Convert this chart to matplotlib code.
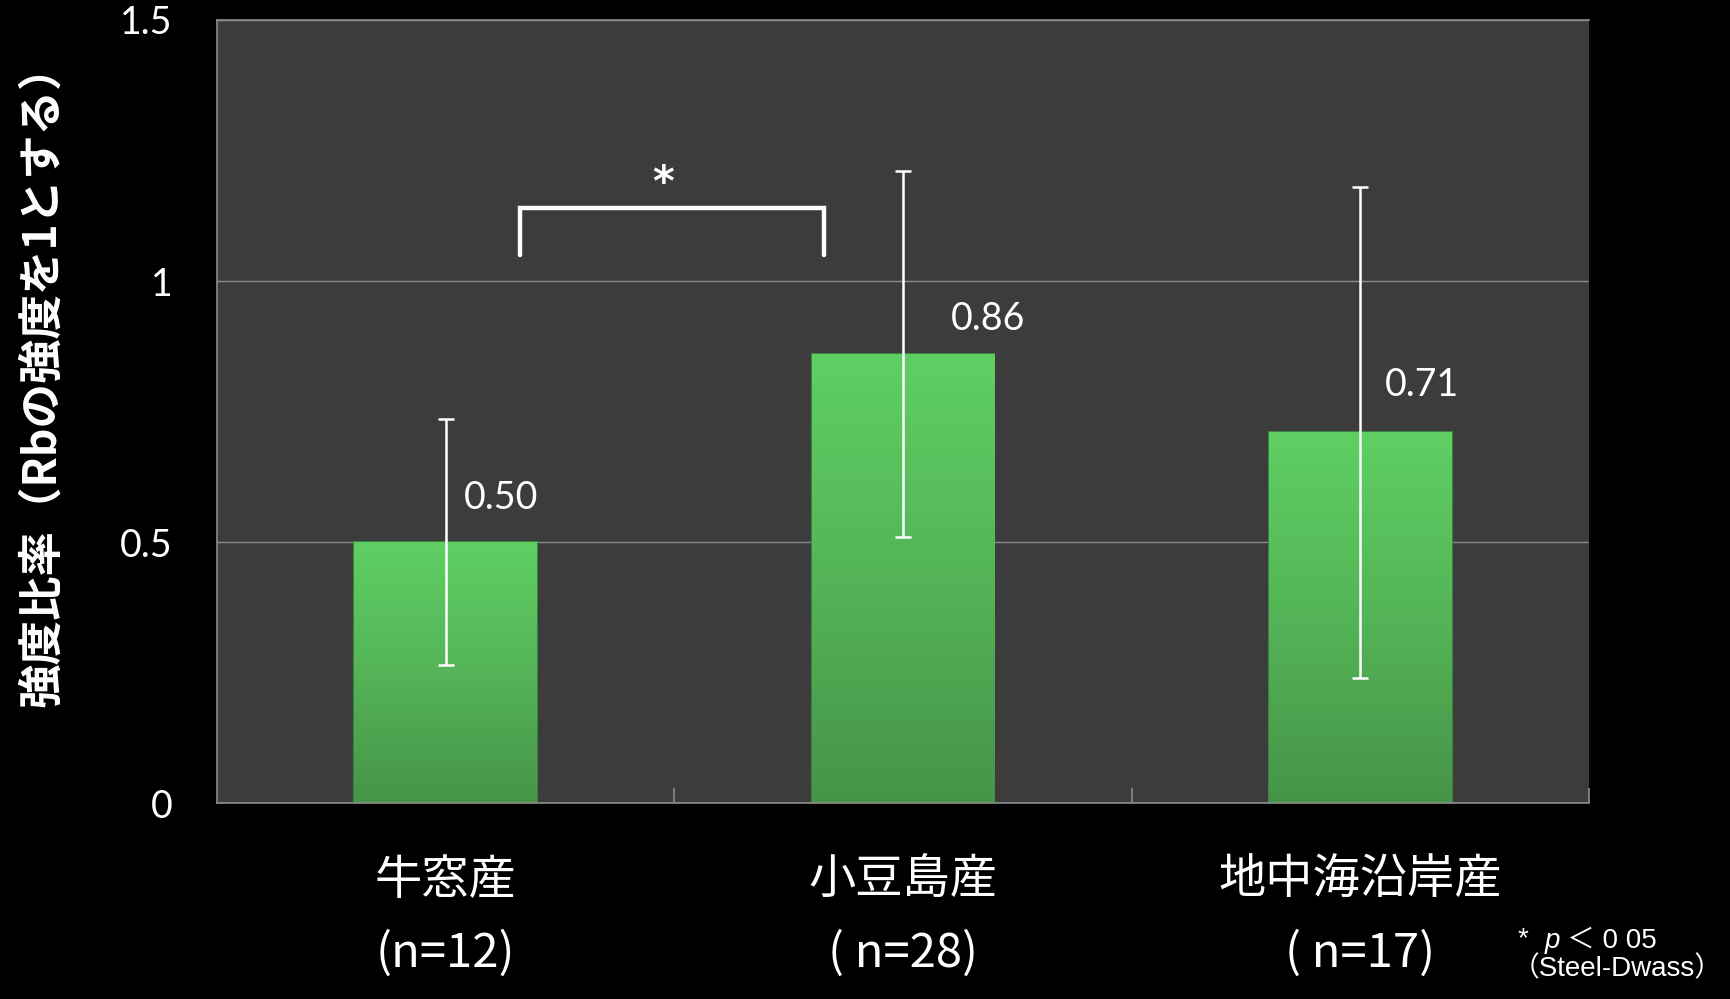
import matplotlib.pyplot as plt
import numpy as np
from matplotlib.colors import LinearSegmentedColormap

plt.rcParams['font.family'] = ['Noto Sans CJK JP', 'DejaVu Sans']

# 産地ごとの強度比率 (平均 ± SD)
origins = ['牛窓産', '小豆島産', '地中海沿岸産']
counts = ['(n=12)', '( n=28)', '( n=17)']
ratios = [0.50, 0.86, 0.71]
sds = [0.235, 0.35, 0.47]
value_labels = ['0.50', '0.86', '0.71']
yticks = [0, 0.5, 1, 1.5]
ytick_labels = ['0', '0.5', '1', '1.5']

BG = '#3c3c3c'
GRID = '#8c8c8c'
NOTE_FONT = ['Liberation Sans', 'Noto Sans CJK JP']

fig = plt.figure(figsize=(17.3, 9.99), dpi=100, facecolor='black')
ax = fig.add_axes([0.1254, 0.196, 0.7931, 0.784])
ax.set_facecolor(BG)

x = np.arange(len(origins))
bars = ax.bar(x, ratios, width=0.4, color='#55b959', edgecolor='#3b833e',
              linewidth=1.5, zorder=2)

# green vertical gradient inside each bar
green = LinearSegmentedColormap.from_list('g', ['#469448', '#54b457', '#5fcf63'])
grad = np.linspace(0, 1, 256).reshape(-1, 1)
for b in bars:
  x0, y0 = b.get_x(), b.get_y()
  im = ax.imshow(grad, cmap=green, origin='lower', aspect='auto',
                 extent=(x0, x0 + b.get_width(), y0, y0 + b.get_height()),
                 zorder=2.1)
  im.set_clip_path(b)

ax.errorbar(x, ratios, yerr=sds, fmt='none', ecolor='white', elinewidth=1.8,
            capsize=6, capthick=1.8, zorder=3)

# value labels beside each error bar
label_dx = [0.04, 0.105, 0.053]
label_y = [0.585, 0.928, 0.80]
for xi, dx, ly, txt in zip(x, label_dx, label_y, value_labels):
  ax.text(xi + dx, ly, txt, color='white', fontsize=27, family='Lato',
          ha='left', va='center', zorder=4)

# significance bracket between 牛窓産 and 小豆島産
bx = [0.163, 0.163, 0.828, 0.828]
by = [1.05, 1.14, 1.14, 1.05]
ax.plot(bx, by, color='white', linewidth=3.2, solid_capstyle='round',
        solid_joinstyle='miter', zorder=4)
ax.text(0.475, 1.185, '*', color='white', fontsize=30, fontweight='bold',
        family='DejaVu Sans', ha='center', va='center', zorder=4)

ax.set_xlim(-0.5, 2.5)
ax.set_ylim(0, 1.5)
ax.set_yticks(yticks)
ax.set_yticklabels(ytick_labels, family='Lato', fontsize=27, color='white')
ax.tick_params(axis='y', length=0, pad=32)
ax.yaxis.grid(True, color=GRID, linewidth=1)
ax.set_axisbelow(True)

# tick marks at the category boundaries, pointing up into the plot
ax.set_xticks([0.5, 1.5, 2.5])
ax.set_xticklabels([])
ax.tick_params(axis='x', direction='in', length=11, width=1.2, color=GRID)

for side in ['left', 'top', 'bottom']:
  ax.spines[side].set_color(GRID)
  ax.spines[side].set_linewidth(1.2)
ax.spines['right'].set_visible(False)

for xi, name, n in zip(x, origins, counts):
  ax.text(xi, -0.148, name, color='white', fontsize=34,
          ha='center', va='center', clip_on=False)
  ax.text(xi, -0.288, n, color='white', fontsize=34,
          ha='center', va='center', clip_on=False)

fig.text(0.024, 0.624, '強度比率（Rbの強度を1とする）', rotation=90, color='white',
         fontsize=32, fontweight='bold', ha='center', va='center')

# significance note, bottom right
fig.text(0.877, 0.06, '*', color='white', fontsize=20, family=NOTE_FONT,
         ha='left', va='center')
fig.text(0.893, 0.058, 'p', color='white', fontsize=20, family=NOTE_FONT,
         style='italic', ha='left', va='center')
fig.text(0.906, 0.058, '＜ 0 05', color='white', fontsize=20, family=NOTE_FONT,
         ha='left', va='center')
fig.text(0.874, 0.03, '（Steel-Dwass）', color='white', fontsize=20,
         family=NOTE_FONT, ha='left', va='center')

fig.savefig('out.png', dpi=100, facecolor='black')
